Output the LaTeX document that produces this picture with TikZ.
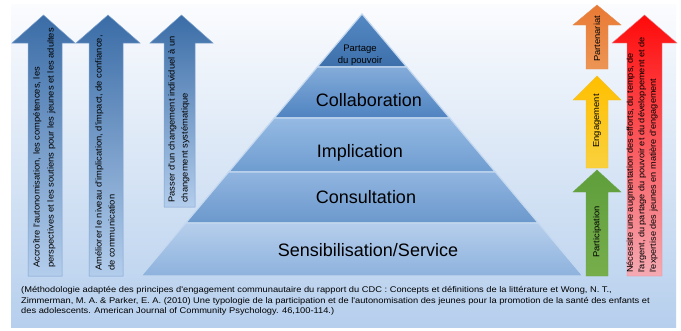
\documentclass[tikz,border=0pt]{standalone}
\usepackage{fontspec}
\setmainfont{Liberation Sans}
\newfontfamily\widefont[FakeStretch=1.08]{Liberation Sans}
\newfontfamily\srcfont[FakeStretch=1.12]{Liberation Sans}

\definecolor{bgtop}{HTML}{FBFCFE}
\definecolor{bgbot}{HTML}{B6CFED}
\definecolor{arrowtop}{HTML}{3A6CA6}
\definecolor{arrowbot}{HTML}{B3CDEC}
\definecolor{arrowedge}{HTML}{7FA3CF}
\definecolor{layerline}{HTML}{C4D8EF}
\definecolor{partagetop}{HTML}{5589C4}
\definecolor{partagebot}{HTML}{3D70AB}
\definecolor{collabtop}{HTML}{84ACDA}
\definecolor{collabbot}{HTML}{4F83C0}
\definecolor{implictop}{HTML}{95BAE3}
\definecolor{implicbot}{HTML}{6E9CD0}
\definecolor{consulttop}{HTML}{91B5E0}
\definecolor{consultbot}{HTML}{6B98CC}
\definecolor{sensibtop}{HTML}{B6CEEC}
\definecolor{sensibbot}{HTML}{8DB2DD}
\definecolor{orangetop}{HTML}{E97A35}
\definecolor{orangebot}{HTML}{EC9555}
\definecolor{orangeedge}{HTML}{E58A4E}
\definecolor{yellowtop}{HTML}{FFBF00}
\definecolor{yellowbot}{HTML}{F9D13E}
\definecolor{yellowedge}{HTML}{F2C230}
\definecolor{greentop}{HTML}{5E9E3B}
\definecolor{greenbot}{HTML}{77AE4C}
\definecolor{greenedge}{HTML}{6AA646}
\definecolor{redtop}{HTML}{FF0A0A}
\definecolor{redbot}{HTML}{F5AAB3}
\definecolor{rededge}{HTML}{E28D96}

\begin{document}
\begin{tikzpicture}[x=1pt,y=-1pt,
    layer/.style={draw=layerline, line width=1.2pt},
    bluearrow/.style={top color=arrowtop, bottom color=arrowbot, draw=arrowedge, line width=0.5pt},
    arrowtext/.style={rotate=90, anchor=north west, align=left, inner sep=0pt, font=\widefont\fontsize{8.7}{14}\selectfont},
    steptext/.style={rotate=90, inner sep=0pt, font=\widefont\fontsize{8.7}{10}\selectfont},
    leveltext/.style={inner sep=0pt, font=\fontsize{18}{20}\selectfont}]

            \useasboundingbox (0,0) rectangle (681,330);
            \fill[white] (0,0) rectangle (681,330);
            \shade[top color=bgtop, bottom color=bgbot] (11,4) rectangle (676,327);

            % pyramide
            \shade[layer, top color=partagetop, bottom color=partagebot] (362,14)--(406.7,67)--(317.3,67)--cycle;
            \shade[layer, top color=collabtop, bottom color=collabbot] (317.3,67)--(406.7,67)--(449.7,118)--(274.3,118)--cycle;
            \shade[layer, top color=implictop, bottom color=implicbot] (274.3,118)--(449.7,118)--(495.3,172)--(228.7,172)--cycle;
            \shade[layer, top color=consulttop, bottom color=consultbot] (228.7,172)--(495.3,172)--(538.3,223)--(185.7,223)--cycle;
            \shade[layer, top color=sensibtop, bottom color=sensibbot] (185.7,223)--(538.3,223)--(583,276)--(141,276)--cycle;

            \node[align=center, inner sep=0pt, font=\fontsize{9.5}{12}\selectfont] (partage) at (360,55) {Partage\\du pouvoir};
            \node[leveltext] (collab) at (369,100) {Collaboration};
            \node[leveltext] (implic) at (360,153) {Implication};
            \node[leveltext] (consult) at (366,197) {Consultation};
            \node[leveltext] (sensib) at (368,250) {Sensibilisation/Service};

            % fleches bleues
            \shade[bluearrow] (28,276)--(28,43)--(12,43)--(43.5,15)--(75,43)--(62,43)--(62,276)--cycle;
            \shade[bluearrow] (89,276)--(89,43)--(76,43)--(108,15)--(140,43)--(123,43)--(123,276)--cycle;
            \shade[bluearrow] (164,207)--(164,43)--(150,43)--(181.5,15)--(213,43)--(195,43)--(195,207)--cycle;

            \node[arrowtext] (autonomie) at (33,268) {Accroître l'autonomisation, les compétences, les\\perspectives et les soutiens pour les jeunes et les adultes};
            \node[arrowtext, font=\widefont\fontsize{8.7}{13}\selectfont] (niveau) at (95,271) {Améliorer le niveau d'implication, d'impact, de confiance,\\de communication};
            \node[arrowtext, font=\widefont\fontsize{8.7}{13}\selectfont] (passer) at (168,203) {Passer d'un changement individuel à un\\changement systématique};

            % fleches de droite
            \shade[top color=orangetop, bottom color=orangebot, draw=orangeedge, line width=0.4pt] (586,69)--(586,25)--(573,25)--(597,5)--(621,25)--(608,25)--(608,69)--cycle;
            \shade[top color=yellowtop, bottom color=yellowbot, draw=yellowedge, line width=0.4pt] (586,168)--(586,100)--(573,100)--(597,76)--(621,100)--(608,100)--(608,168)--cycle;
            \shade[top color=greentop, bottom color=greenbot, draw=greenedge, line width=0.4pt] (586,276)--(586,192)--(573,192)--(597,170)--(621,192)--(608,192)--(608,276)--cycle;
            \shade[top color=redtop, bottom color=redbot, draw=rededge, line width=0.4pt] (627,276)--(627,43)--(612,43)--(644.5,15)--(677,43)--(662,43)--(662,276)--cycle;

            \node[steptext] (partenariat) at (597,39) {Partenariat};
            \node[steptext] (engagement) at (597,121) {Engagement};
            \node[steptext] (participation) at (597,232) {Participation};
            \node[arrowtext, font=\widefont\fontsize{8.5}{11.5}\selectfont] (efforts) at (626.5,273) {Nécessite une augmentation des efforts, du temps, de\\l'argent, du partage du pouvoir et du développement et de\\l'expertise des jeunes en matière d'engagement};

            % source
            \node[anchor=north west, align=left, inner sep=0pt, font=\srcfont\fontsize{8.3}{10.8}\selectfont] (source) at (21,286) {(Méthodologie adaptée des principes d'engagement communautaire du rapport du CDC : Concepts et définitions de la littérature et Wong, N. T.,\\Zimmerman, M. A. \& Parker, E. A. (2010) Une typologie de la participation et de l'autonomisation des jeunes pour la promotion de la santé des enfants et\\des adolescents. American Journal of Community Psychology. 46,100-114.)};

        \end{tikzpicture}
\end{document}
